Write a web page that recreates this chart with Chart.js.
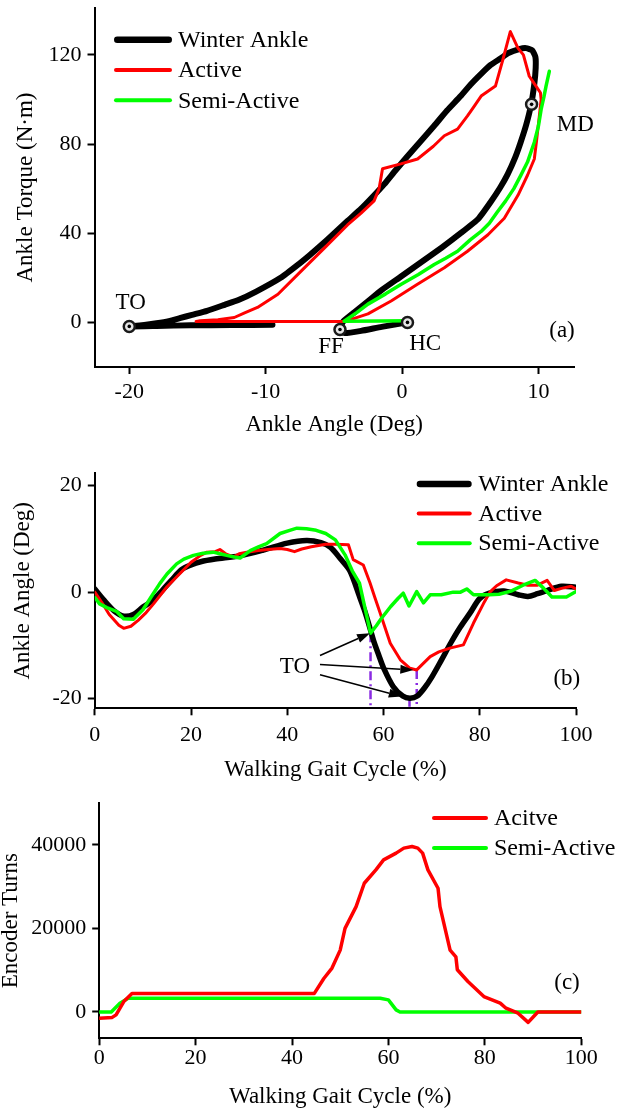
<!DOCTYPE html>
<html>
<head>
<meta charset="utf-8">
<script src="https://cdn.jsdelivr.net/npm/chart.js@4.4.1/dist/chart.umd.min.js"></script>
<style>
    html, body { margin: 0; padding: 0; background: #fff; }
    .panel { position: absolute; left: 0; }
</style>
</head>
<body>
<canvas id="chart-a" class="panel" style="top:0" width="628" height="440"></canvas>
<canvas id="chart-b" class="panel" style="top:460px" width="628" height="330"></canvas>
<canvas id="chart-c" class="panel" style="top:790px" width="628" height="321"></canvas>
<script>
const FONT = "'Liberation Serif', 'Times New Roman', serif";
const BLACK = '#000000', RED = '#ff0000', GREEN = '#00ff00', PURPLE = '#8a2be2';

// ---- panel (a): torque vs angle loops
const angleTicksA = [-20, -10, 0, 10];
const torqueTicksA = [0, 40, 80, 120];
const winterAngleA = [0.4, -1.5, -3.0, -4.2, -4.6, -4.3, -3.5, -2.5, -1.5, -0.1, 1.4, 2.9, 4.3, 5.6, 6.5, 7.2, 7.75, 8.3, 8.7, 9.1,
    9.46, 9.7, 9.8, 9.78, 9.55, 9.1, 8.6, 7.8, 7.25, 6.5, 5.8, 5.0, 4.3, 3.3, 2.36, 1.4, 0.4, -0.5, -1.3, -2.2,
    -3.0, -4.0, -5.5, -6.8, -7.5, -8.9, -10.7, -12.0, -13.0, -14.3, -15.4, -16.3, -17.1, -18.0, -18.9, -20.0, -18.0, -15.5, -12.5, -9.5];
const winterTorqueA = [0, -2, -3.8, -4.8, -3.2, 0.5, 4.5, 9.5, 14.5, 20.5, 27, 33.5, 40, 46.5, 54, 60.5, 66.5, 74, 80.8, 88.5,
    97.5, 107, 114, 119, 122, 123, 122.6, 120.8, 118.5, 115.5, 111.5, 106.5, 101.5, 95, 88.2, 81.5, 74.5, 68, 62, 56,
    51, 45.5, 37, 30, 26.5, 20, 13.8, 10, 7.9, 5.2, 3.4, 1.9, 0.6, -0.4, -1.2, -1.8, -1.6, -1.3, -1.2, -1.1];
const activeAngleA = [-4.3, -4.0, -2.5, -0.8, 1.1, 3.1, 4.8, 6.3, 7.5, 8.5, 9.2, 9.7, 9.85, 10.07, 10.2, 10.15, 9.6, 9.33, 8.9, 8.5,
    7.94, 7.4, 6.85, 6.3, 5.8, 5.3, 4.8, 4.07, 3.1, 2.3, 1.14, -0.09, -1.43, -1.68, -2.05, -3.0, -4.0, -5.7, -7.4, -9.1,
    -10.6, -11.5, -12.3, -13.5, -14.8, -15.1, -4.3];
const activeTorqueA = [0.4, 0.8, 3.8, 9.6, 17, 24.5, 31.9, 39.3, 46.7, 57, 66, 73.3, 80.8, 92.6, 100, 103, 108, 110.4, 120, 123,
    130.4, 118, 106, 103.7, 101.5, 97, 92.6, 86.7, 83.7, 79, 73.3, 71.1, 68.9, 60, 54.5, 49, 43.7, 33.3, 23, 12.6,
    6.7, 4.4, 2.2, 1.2, 0.7, 0.4, 0.4];
const semiAngleA = [0.4, -1.5, -4.25, -3.3, -2.5, -1.2, -0.09, 1.2, 2.36, 3.2, 4.07, 5.0, 5.8, 6.4, 7.0, 7.6, 8.2, 8.7, 9.2, 9.7,
    10.0, 10.2, 10.4, 10.56, 10.8];
const semiTorqueA = [0.75, 0.6, 0.5, 4.5, 8.2, 12.8, 17, 21.5, 26, 28.8, 31.9, 37, 40.8, 44.5, 49.6, 54.5, 60, 65.8, 71.9, 80.8,
    88, 95.5, 101, 106, 112.6];
const eventNamesA = ['TO', 'FF', 'HC', 'MD'];
const eventAngleA = [-20.0, -4.55, 0.4, 9.5];
const eventTorqueA = [-1.8, -3.2, 0, 97.8];

// ---- panel (b): ankle angle over the gait cycle
const pctTicks = [0, 20, 40, 60, 80, 100];
const angleTicksB = [-20, 0, 20];
const winterPctB = [0, 2, 4, 6, 8, 10, 12, 14, 16, 18, 20, 22, 25, 30, 35, 40, 44, 47, 49, 51,
    53, 55, 56, 57, 58, 59, 60, 62, 64, 65.5, 67, 68.5, 70, 72, 74, 76, 78, 80, 82, 85,
    88, 90, 92, 94, 97, 100];
const winterAngleB = [0.6, -1.6, -3.5, -4.5, -4.2, -2.8, -1.6, 0.3, 2.3, 4.2, 5.1, 5.7, 6.2, 6.8, 7.9, 9.2, 9.7, 9.3, 8.4, 6.3,
    4.0, -0.8, -3.3, -6.2, -9.3, -11.8, -14.2, -17.7, -19.5, -19.9, -19.5, -18.0, -16.0, -12.8, -9.5, -6.5, -3.9, -1.2, -0.2, 0.2,
    -0.5, -0.8, -0.3, 0.3, 1.1, 0.9];
const activePctB = [0, 1.5, 3, 5, 6, 7.5, 9, 10.5, 12.2, 15, 17.7, 20, 22, 23.3, 25, 26, 27.2, 28.8, 30, 31.6,
    34, 36, 38.5, 40, 41.5, 43, 45, 48, 50, 52.7, 53.7, 55.8, 57.2, 58.2, 59.3, 61.4, 63.5, 65.5, 66.9, 69.7,
    71.5, 73.8, 76.6, 78.7, 80.8, 82.2, 83.5, 85.5, 88, 90, 92, 94, 95.5, 97, 99, 100];
const activeAngleB = [0.0, -2.0, -4.2, -6.2, -6.8, -6.4, -5.3, -4.0, -2.2, 1.0, 3.5, 5.6, 6.9, 7.5, 7.6, 8.0, 7.2, 6.6, 7.2, 7.5,
    7.8, 8.0, 8.2, 8.0, 7.6, 8.1, 8.5, 9.0, 9.0, 8.9, 6.1, 5.1, 1.7, -1.0, -3.9, -9.6, -12.7, -14.3, -14.6, -12.1,
    -11.2, -10.5, -9.9, -5.8, -2.1, 0.1, 1.2, 2.3, 1.7, 1.3, 1.3, 2.2, 0.3, 0.7, 1.1, 0.6];
const semiPctB = [0, 1, 2.5, 4.5, 6, 8, 10, 12, 13.5, 15, 17, 18.5, 20.5, 22.5, 24.6, 26, 27.4, 29, 30.2, 32.3,
    34, 35.7, 38.5, 40.5, 42, 44, 46, 48, 50, 52, 53.5, 55, 56.5, 57.3, 58.5, 59.5, 61.5, 63, 64.1, 65.3,
    66.9, 68.3, 69.7, 72, 74.5, 76, 77.3, 78.7, 82, 84, 86.5, 89, 91.5, 93.2, 95, 98, 100];
const semiAngleB = [-1.0, -2.2, -2.9, -3.6, -5.0, -5.1, -3.3, -0.5, 1.6, 3.4, 5.3, 6.2, 6.9, 7.3, 7.5, 7.2, 6.9, 6.6, 6.4, 7.8,
    8.5, 9.1, 11.0, 11.6, 12.0, 11.9, 11.6, 11.0, 9.8, 7.0, 4.0, 1.7, -4.4, -7.7, -6.3, -5.0, -2.7, -1.2, -0.2, -2.6,
    0.1, -2.0, -0.5, -0.5, 0.0, 0.0, 0.6, -0.5, -0.5, -0.4, 0.2, 1.3, 2.2, 0.8, -0.9, -0.9, 0.1];
const toeOffPct = [57.3, 65.4, 66.9];
const toeOffAngle = [-7.7, -19.8, -14.6];

// ---- panel (c): encoder turns
const turnTicksC = [0, 20000, 40000];
const activePctC = [0, 2.7, 3.5, 5.1, 6.8, 44.6, 46.6, 48.3, 50, 51, 53.3, 55, 57.4, 59, 61.6, 63.2, 64.9, 66.1, 67.1, 68.2,
    70.3, 70.7, 72.8, 74, 74.3, 76.5, 79.8, 83.2, 84.4, 86.9, 89, 91, 100];
const activeTurnsC = [-1500, -1300, -700, 2500, 4400, 4400, 8000, 10500, 14800, 20000, 25200, 30800, 34000, 36400, 38000, 39200, 39600, 39200, 38000, 34000,
    29600, 25200, 14800, 13200, 10100, 7300, 3700, 2100, 900, -300, -2500, 0, 0];
const semiPctC = [0, 2.5, 4.3, 6, 58.3, 60, 61.6, 62.4, 100];
const semiTurnsC = [0, 0, 2100, 3300, 3300, 2900, 500, 0, 0];

const namesAB = ['Winter Ankle', 'Active', 'Semi-Active'];
const namesC = ['Acitve', 'Semi-Active'];

function pts(xs, ys) {
    return xs.map((x, i) => ({x: x, y: ys[i]}));
}

function line(label, xs, ys, color, width, order, tension) {
    return {
        label: label,
        data: pts(xs, ys),
        showLine: true,
        borderColor: color,
        borderWidth: width,
        borderCapStyle: 'round',
        borderJoinStyle: 'round',
        pointRadius: 0,
        tension: tension || 0,
        order: order
    };
}

function axis(o) {
    return {
        type: 'linear',
        min: o.min,
        max: o.max,
        border: {display: true, color: '#000', width: 2},
        grid: {display: true, drawOnChartArea: false, drawTicks: true, tickLength: 7, tickWidth: 2, tickColor: '#000', color: '#000'},
        ticks: {color: '#000', font: {family: FONT, size: 22}, padding: o.pad, maxRotation: 0, autoSkip: false,
            callback: v => String(v)},
        title: {display: true, text: o.title, color: '#000', font: {family: FONT, size: 23, lineHeight: 1.2}, padding: o.titlePad},
        afterBuildTicks: s => { s.ticks = o.ticks.map(v => ({value: v})); },
        afterFit: s => {
            if (o.width) { s.width = o.width; s.paddingTop = 0; s.paddingBottom = 0; }
            if (o.height) { s.height = o.height; s.paddingLeft = 0; s.paddingRight = 0; }
        }
    };
}

const decor = {
    id: 'decor',
    afterDatasetsDraw(chart, args, opts) {
        const ctx = chart.ctx;
        const xs = chart.scales.x, ys = chart.scales.y;
        const area = chart.chartArea;
        ctx.save();
        ctx.fillStyle = '#000';
        (opts.arrows || []).forEach(a => {
            const x1 = xs.getPixelForValue(a[0]), y1 = ys.getPixelForValue(a[1]);
            const x2 = xs.getPixelForValue(a[2]), y2 = ys.getPixelForValue(a[3]);
            const ang = Math.atan2(y2 - y1, x2 - x1);
            const c = Math.cos(ang), s = Math.sin(ang), head = 13, half = 4.5;
            ctx.strokeStyle = '#000';
            ctx.lineWidth = 1.5;
            ctx.beginPath();
            ctx.moveTo(x1, y1);
            ctx.lineTo(x2 - c * head, y2 - s * head);
            ctx.stroke();
            ctx.beginPath();
            ctx.moveTo(x2, y2);
            ctx.lineTo(x2 - c * head + s * half, y2 - s * head - c * half);
            ctx.lineTo(x2 - c * head - s * half, y2 - s * head + c * half);
            ctx.closePath();
            ctx.fill();
        });
        ctx.font = '23px ' + FONT;
        ctx.textAlign = 'center';
        ctx.textBaseline = 'middle';
        (opts.labels || []).forEach(l => {
            ctx.fillText(l.text, xs.getPixelForValue(l.x), ys.getPixelForValue(l.y));
        });
        const lg = opts.legend;
        if (lg) {
            ctx.font = '24px ' + FONT;
            lg.items.forEach((it, i) => {
                const y = area.top + lg.top + i * lg.step;
                const x0 = area.left + lg.left;
                ctx.strokeStyle = it.color;
                ctx.lineWidth = it.width;
                ctx.lineCap = 'round';
                ctx.beginPath();
                ctx.moveTo(x0 + it.width / 2, y);
                ctx.lineTo(x0 + lg.len - it.width / 2, y);
                ctx.stroke();
                ctx.textAlign = 'left';
                ctx.fillText(it.text, x0 + lg.len + lg.gap, y + 1);
            });
        }
        ctx.restore();
    }
};

Chart.defaults.font.family = FONT;
Chart.defaults.color = '#000';

const baseOptions = {
    responsive: false,
    animation: false,
    events: []
};

// panel (a)
new Chart(document.getElementById('chart-a'), {
    type: 'scatter',
    data: {
        datasets: [
            {
                label: 'events',
                data: pts(eventAngleA, eventTorqueA),
                pointRadius: 1.8,
                pointBackgroundColor: '#000',
                pointBorderWidth: 0,
                order: 0
            },
            {
                label: 'event rings',
                data: pts(eventAngleA, eventTorqueA),
                pointRadius: 5.5,
                pointBackgroundColor: '#e6e6e6',
                pointBorderColor: '#1a1a1a',
                pointBorderWidth: 2.5,
                order: 0.5
            },
            line(namesAB[2], semiAngleA, semiTorqueA, GREEN, 3.5, 1),
            line(namesAB[1], activeAngleA, activeTorqueA, RED, 3, 2),
            line(namesAB[0], winterAngleA, winterTorqueA, BLACK, 6, 3, 0.15)
        ]
    },
    options: Object.assign({}, baseOptions, {
        layout: {padding: {left: 0, right: 54, top: 5, bottom: 0}},
        scales: {
            x: axis({min: -22.55, max: 12.61, ticks: angleTicksA, pad: 5, title: 'Ankle Angle (Deg)',
                titlePad: {top: 0, bottom: 1.2}, height: 73}),
            y: axis({min: -20, max: 141, ticks: torqueTicksA, pad: 6, title: 'Ankle Torque (N\u00b7m)',
                titlePad: {top: 12, bottom: 0}, width: 94.5})
        },
        plugins: {
            legend: {display: false},
            tooltip: {enabled: false},
            decor: {
                labels: [
                    {text: eventNamesA[0], x: -19.9, y: 8.8},
                    {text: eventNamesA[1], x: -5.2, y: -10.8},
                    {text: eventNamesA[2], x: 1.7, y: -9.5},
                    {text: eventNamesA[3], x: 12.7, y: 88.7},
                    {text: '(a)', x: 11.73, y: -3.7}
                ],
                legend: {left: 19.5, top: 31.7, step: 30.3, len: 58, gap: 6, items: [
                    {text: namesAB[0], color: BLACK, width: 6.5},
                    {text: namesAB[1], color: RED, width: 4},
                    {text: namesAB[2], color: GREEN, width: 4}
                ]}
            }
        }
    }),
    plugins: [decor]
});

// panel (b)
const toeOffLines = toeOffPct.map((p, i) => ({
    label: 'toe off ' + i,
    data: [{x: p, y: toeOffAngle[i]}, {x: p, y: -21.8}],
    showLine: true,
    borderColor: PURPLE,
    borderWidth: 2.5,
    borderDash: [9, 4, 2, 4],
    pointRadius: 0,
    order: 4
}));

new Chart(document.getElementById('chart-b'), {
    type: 'scatter',
    data: {
        datasets: [
            line(namesAB[2], semiPctB, semiAngleB, GREEN, 3.5, 1),
            line(namesAB[1], activePctB, activeAngleB, RED, 3, 2),
            line(namesAB[0], winterPctB, winterAngleB, BLACK, 5.5, 3, 0.3)
        ].concat(toeOffLines)
    },
    options: Object.assign({}, baseOptions, {
        layout: {padding: {left: 0, right: 52, top: 13.3, bottom: 0}},
        scales: {
            x: axis({min: 0, max: 100, ticks: pctTicks, pad: 6.5, title: 'Walking Gait Cycle (%)',
                titlePad: {top: 0, bottom: 6.2}, height: 81.7}),
            y: axis({min: -21.8, max: 22.3, ticks: angleTicksB, pad: 6, title: 'Ankle Angle (Deg)',
                titlePad: {top: 9.2, bottom: 0}, width: 94.8})
        },
        plugins: {
            legend: {display: false},
            tooltip: {enabled: false},
            decor: {
                arrows: [
                    [46.8, -11.9, 57.2, -7.7],
                    [46.8, -13.6, 66.2, -14.6],
                    [46.8, -15.5, 63.8, -19.6]
                ],
                labels: [
                    {text: 'TO', x: 41.6, y: -14.1},
                    {text: '(b)', x: 98.1, y: -16.2}
                ],
                legend: {left: 321.9, top: 10.7, step: 29.6, len: 55, gap: 6.5, items: [
                    {text: namesAB[0], color: BLACK, width: 6.5},
                    {text: namesAB[1], color: RED, width: 4},
                    {text: namesAB[2], color: GREEN, width: 4}
                ]}
            }
        }
    }),
    plugins: [decor]
});

// panel (c)
new Chart(document.getElementById('chart-c'), {
    type: 'scatter',
    data: {
        datasets: [
            line(namesC[0], activePctC, activeTurnsC, RED, 3.5, 1),
            line(namesC[1], semiPctC, semiTurnsC, GREEN, 3.5, 2)
        ]
    },
    options: Object.assign({}, baseOptions, {
        layout: {padding: {left: 0, right: 46.8, top: 13, bottom: 0}},
        scales: {
            x: axis({min: 0, max: 100, ticks: pctTicks, pad: 0, title: 'Walking Gait Cycle (%)',
                titlePad: {top: 0, bottom: 0.2}, height: 72.7}),
            y: axis({min: -6300, max: 50000, ticks: turnTicksC, pad: 6, title: 'Encoder Turns',
                titlePad: {top: -3.3, bottom: 0}, width: 99.2})
        },
        plugins: {
            legend: {display: false},
            tooltip: {enabled: false},
            decor: {
                labels: [
                    {text: '(c)', x: 97.05, y: 6950}
                ],
                legend: {left: 332.8, top: 15, step: 30, len: 56, gap: 6, items: [
                    {text: namesC[0], color: RED, width: 4},
                    {text: namesC[1], color: GREEN, width: 4}
                ]}
            }
        }
    }),
    plugins: [decor]
});
</script>
</body>
</html>
